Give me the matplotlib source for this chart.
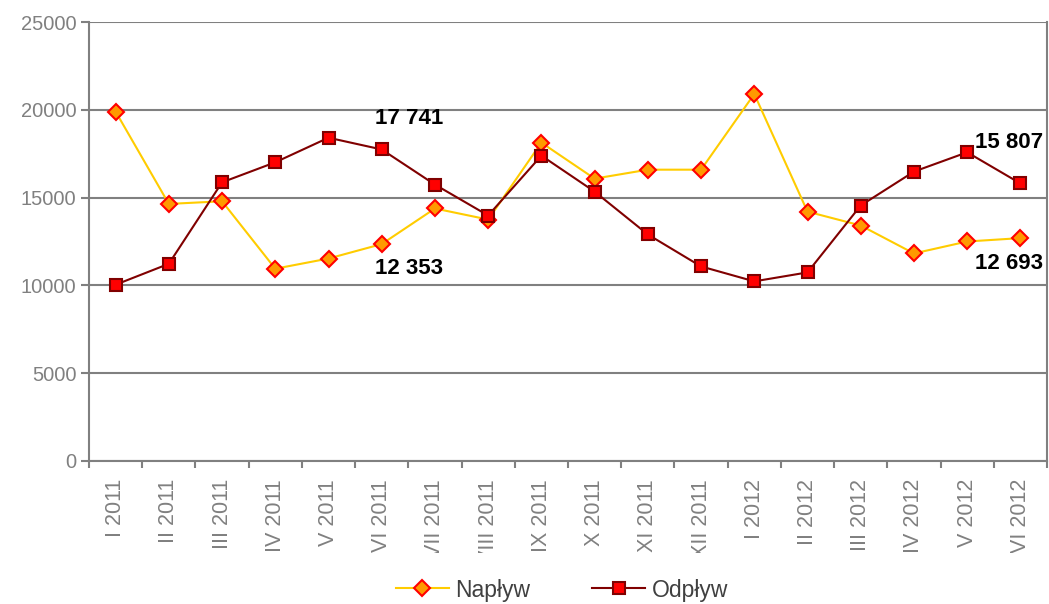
import numpy as np
import matplotlib.pyplot as plt
from matplotlib.transforms import Bbox, TransformedBbox

plt.rcParams['font.family'] = ['Liberation Sans', 'DejaVu Sans']

miesiace = ['I 2011', 'II 2011', 'III 2011', 'IV 2011', 'V 2011', 'VI 2011',
            'VII 2011', 'VIII 2011', 'IX 2011', 'X 2011', 'XI 2011', 'XII 2011',
            'I 2012', 'II 2012', 'III 2012', 'IV 2012', 'V 2012', 'VI 2012']

naplyw = [19900, 14640, 14790, 10950, 11530, 12353, 14380, 13750, 18130,
          16080, 16590, 16590, 20900, 14200, 13410, 11820, 12500, 12693]

odplyw = [10040, 11230, 15870, 17010, 18410, 17741, 15740, 13980, 17390,
          15340, 12900, 11080, 10230, 10740, 14550, 16480, 17580, 15807]

szary = '#808080'

fig = plt.figure(figsize=(10.49, 6.04), dpi=100)
ax = fig.add_axes([89 / 1049, 143 / 604, 958 / 1049, 439 / 604])

x = np.arange(len(miesiace))
ax.plot(x, naplyw, color='#FFCC00', lw=1.5, marker='D', ms=8.5,
        mfc='#FF9900', mec='#FF0000', mew=1.5, label='Napływ', zorder=3)
ax.plot(x, odplyw, color='#800000', lw=1.5, marker='s', ms=8.5,
        mfc='#FF0000', mec='#800000', mew=1.5, label='Odpływ', zorder=3)

# podpisy wybranych wartosci
def fmt(v):
    return f'{v:,}'.replace(',', ' ')

ax.annotate(fmt(odplyw[5]), (x[5], odplyw[5]), xytext=(20, 15), textcoords='offset points',
            ha='center', va='bottom', fontsize=16, fontweight='bold')
ax.annotate(fmt(naplyw[5]), (x[5], naplyw[5]), xytext=(20, -10), textcoords='offset points',
            ha='center', va='top', fontsize=16, fontweight='bold')
ax.annotate(fmt(odplyw[17]), (x[17], odplyw[17]), xytext=(-8, 22), textcoords='offset points',
            ha='center', va='bottom', fontsize=16, fontweight='bold')
ax.annotate(fmt(naplyw[17]), (x[17], naplyw[17]), xytext=(-8, -11), textcoords='offset points',
            ha='center', va='top', fontsize=16, fontweight='bold')

ax.set_xlim(-0.5, len(miesiace) - 0.5)
ax.set_ylim(0, 25000)
ax.set_yticks(np.arange(0, 25001, 5000))
ax.yaxis.grid(True, color=szary, lw=1.5)
ax.set_axisbelow(True)

ax.set_xticks(x)
ax.set_xticklabels(miesiace, rotation=90, va='top', ha='center')
ax.set_xticks(np.arange(-0.5, len(miesiace)), minor=True)
ax.tick_params(axis='x', which='major', length=0, pad=13, labelsize=15.5, labelcolor=szary)
ax.tick_params(axis='x', which='minor', length=5, width=1.5, color=szary, direction='out')
ax.tick_params(axis='y', length=6, width=1.5, color=szary, labelsize=14.5, labelcolor=szary, pad=3)

for s in ['left', 'bottom', 'right']:
    ax.spines[s].set_color(szary)
    ax.spines[s].set_linewidth(1.5)
ax.spines['top'].set_visible(False)

# dlugie podpisy sa obciete od dolu jak w oryginale
klip = TransformedBbox(Bbox([[0, 51 / 604], [1, 1]]), fig.transFigure)
for lab in ax.get_xticklabels():
    lab.set_clip_box(klip)
    lab.set_clip_on(True)

leg = fig.legend(loc='center', bbox_to_anchor=(562 / 1049, 1 - 590 / 604), ncol=2,
                 frameon=False, fontsize=16.5, handlelength=2.3, handletextpad=0.3,
                 columnspacing=2.7)
for t in leg.get_texts():
    t.set_color('#404040')

fig.savefig('out.png', dpi=100)
